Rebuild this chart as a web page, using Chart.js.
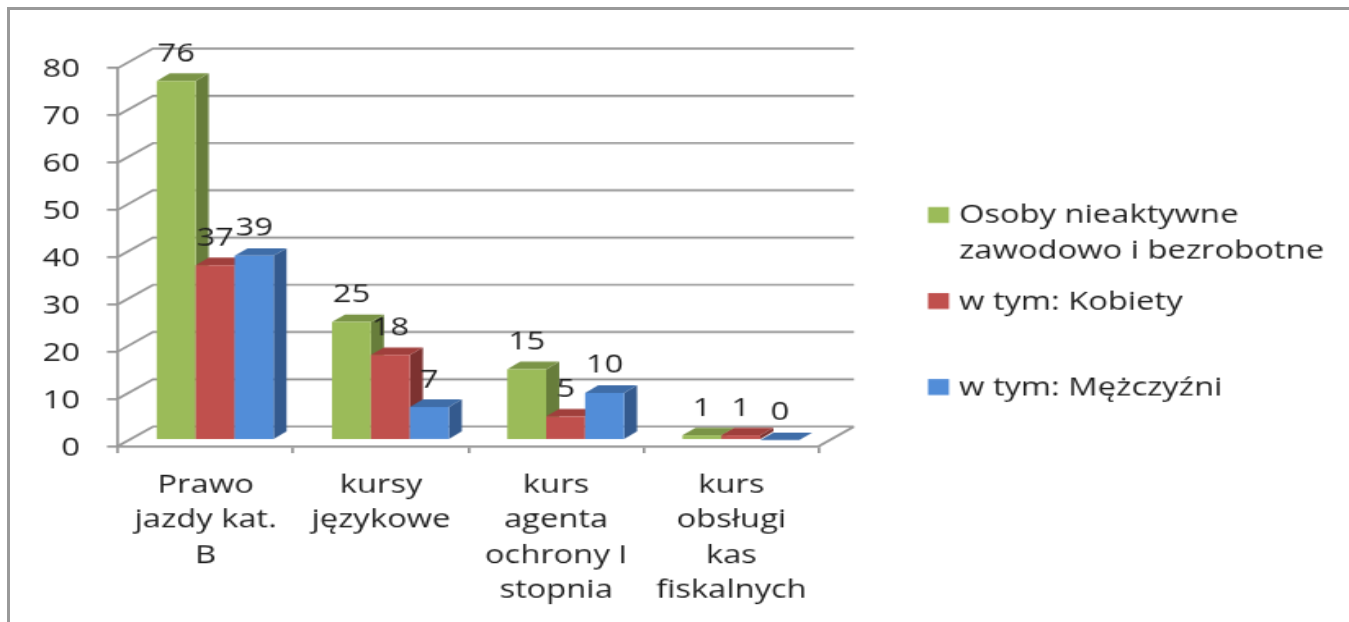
<!DOCTYPE html>
<html>
<head>
<meta charset="utf-8">
<title>Kursy</title>
<script src="https://cdn.jsdelivr.net/npm/chart.js@4"></script>
<style>
  html, body { margin: 0; padding: 0; background: #fff; overflow: hidden; }
  #frame { position: absolute; left: 7px; top: 7px; right: -5px; bottom: -5px; border: 3px solid #9a9a9a; }
  canvas { position: absolute; left: 0; top: 0; transform-origin: 0 0; }
</style>
</head>
<body>
<div id="frame"></div>
<canvas id="chart" width="825" height="486"></canvas>
<script>
const categories = [
  ['Prawo', 'jazdy kat.', 'B'],
  ['kursy', 'językowe'],
  ['kurs', 'agenta', 'ochrony I', 'stopnia'],
  ['kurs', 'obsługi', 'kas', 'fiskalnych'],
];
const wszyscy = [76, 25, 15, 1];
const kobiety = [37, 18, 5, 1];
const mezczyzni = [39, 7, 10, 0];
const yTicksMax = 80;

const legendLines = [
  ['Osoby nieaktywne', 'zawodowo i bezrobotne'],
  ['w tym: Kobiety'],
  ['w tym: Mężczyźni'],
];

// front, side and top face of each series
const faces = [
  { front: '#9bbb59', side: '#677d3b', top: '#7a9446' },
  { front: '#c0504d', side: '#7d3230', top: '#a03f3c' },
  { front: '#528dd8', side: '#345a8e', top: '#3f6da8' },
];

const FONT = '"Open Sans", sans-serif';
const FONT_SIZE = 20;
const TEXT = '#1c1c1c';
const GRID = '#969696';

// the original is a small picture blown up unevenly, so draw small and stretch it the same way
const SX = 1349 / 825;
const SY = 622 / 486;
const canvas = document.getElementById('chart');
canvas.style.transform = `scale(${SX}, ${SY})`;

// the floor and walls of the fake 3D box
const WALL_DX = 35 / SX;
const WALL_DY = -19.5 / SY;
// bars stand in the middle of that depth
const BAR_SHIFT_X = 9.5 / SX;
const BAR_SHIFT_Y = -6 / SY;
const BAR_DX = 13 / SX;
const BAR_DY = -7.5 / SY;

function drawFaces(ctx, meta, face) {
  meta.data.forEach(bar => {
    const left = bar.x - bar.width / 2;
    const right = bar.x + bar.width / 2;
    ctx.fillStyle = face.side;
    ctx.beginPath();
    ctx.moveTo(right, bar.base);
    ctx.lineTo(right + BAR_DX, bar.base + BAR_DY);
    ctx.lineTo(right + BAR_DX, bar.y + BAR_DY);
    ctx.lineTo(right, bar.y);
    ctx.closePath();
    ctx.fill();
    ctx.fillStyle = face.top;
    ctx.beginPath();
    ctx.moveTo(left, bar.y);
    ctx.lineTo(left + BAR_DX, bar.y + BAR_DY);
    ctx.lineTo(right + BAR_DX, bar.y + BAR_DY);
    ctx.lineTo(right, bar.y);
    ctx.closePath();
    ctx.fill();
  });
}

function drawLegend(ctx) {
  const tops = [216, 302, 388];
  ctx.textAlign = 'left';
  legendLines.forEach((lines, i) => {
    ctx.fillStyle = faces[i].front;
    ctx.fillRect(928 / SX, (tops[i] - 9) / SY, 21 / SX, 16 / SY);
    ctx.fillStyle = TEXT;
    lines.forEach((line, k) => ctx.fillText(line, 959 / SX, (tops[i] + k * 35) / SY));
  });
}

const box3d = {
  id: 'box3d',
  beforeDatasetsDraw(chart) {
    const { ctx, chartArea, scales } = chart;
    ctx.save();
    ctx.strokeStyle = GRID;
    ctx.lineWidth = 1.7;
    ctx.beginPath();
    scales.y.ticks.forEach(t => {
      const y = scales.y.getPixelForValue(t.value);
      ctx.moveTo(chartArea.left, y);
      ctx.lineTo(chartArea.left + WALL_DX, y + WALL_DY);
      ctx.lineTo(chartArea.right + WALL_DX, y + WALL_DY);
    });
    ctx.moveTo(chartArea.right, chartArea.bottom);
    ctx.lineTo(chartArea.right + WALL_DX, chartArea.bottom + WALL_DY);
    ctx.stroke();
    ctx.restore();

    // left to right so each bar covers the side of the one before it
    ctx.save();
    ctx.translate(BAR_SHIFT_X, BAR_SHIFT_Y);
    chart.data.datasets.forEach((ds, i) => {
      const meta = chart.getDatasetMeta(i);
      drawFaces(ctx, meta, faces[i]);
      meta.controller.draw();
    });
    ctx.restore();
  },
  beforeDatasetDraw() {
    return false; // already drawn above
  },
  afterDatasetsDraw(chart) {
    const { ctx } = chart;
    ctx.save();
    ctx.font = FONT_SIZE + 'px ' + FONT;
    ctx.fillStyle = TEXT;
    ctx.textAlign = 'center';
    ctx.textBaseline = 'middle';
    chart.data.datasets.forEach((ds, i) => {
      chart.getDatasetMeta(i).data.forEach((bar, j) => {
        ctx.fillText(ds.data[j], bar.x + BAR_SHIFT_X, bar.y + BAR_SHIFT_Y - 27 / SY);
      });
    });
    drawLegend(ctx);
    ctx.restore();
  },
};

new Chart(canvas, {
  type: 'bar',
  data: {
    labels: categories,
    datasets: [
      { label: legendLines[0].join(' '), data: wszyscy, backgroundColor: faces[0].front },
      { label: legendLines[1][0], data: kobiety, backgroundColor: faces[1].front },
      { label: legendLines[2][0], data: mezczyzni, backgroundColor: faces[2].front },
    ],
  },
  options: {
    responsive: false,
    animation: false,
    clip: false,
    layout: { padding: { top: 68 / SY, right: 530 / SX, left: 0, bottom: 0 } },
    categoryPercentage: 2 / 3,
    barPercentage: 1,
    plugins: { legend: { display: false }, tooltip: { enabled: false } },
    scales: {
      x: {
        afterFit(s) { s.height = 176 / SY; },
        grid: { drawOnChartArea: false, color: GRID, lineWidth: 1.7, tickLength: 7 / SY, offset: true },
        border: { color: GRID, width: 1.7 },
        ticks: {
          color: TEXT,
          padding: 15 / SY,
          maxRotation: 0,
          autoSkip: false,
          font: { family: FONT, size: FONT_SIZE, lineHeight: 1.37 },
        },
      },
      y: {
        min: 0,
        max: yTicksMax,
        afterFit(s) { s.width = 118 / SX; },
        grid: { drawOnChartArea: false, color: GRID, lineWidth: 1.7, tickLength: 11 / SX },
        border: { color: GRID, width: 1.7 },
        ticks: {
          stepSize: 10,
          color: TEXT,
          padding: 27 / SX,
          labelOffset: 2 / SY,
          font: { family: FONT, size: FONT_SIZE },
        },
      },
    },
  },
  plugins: [box3d],
});
</script>
</body>
</html>
